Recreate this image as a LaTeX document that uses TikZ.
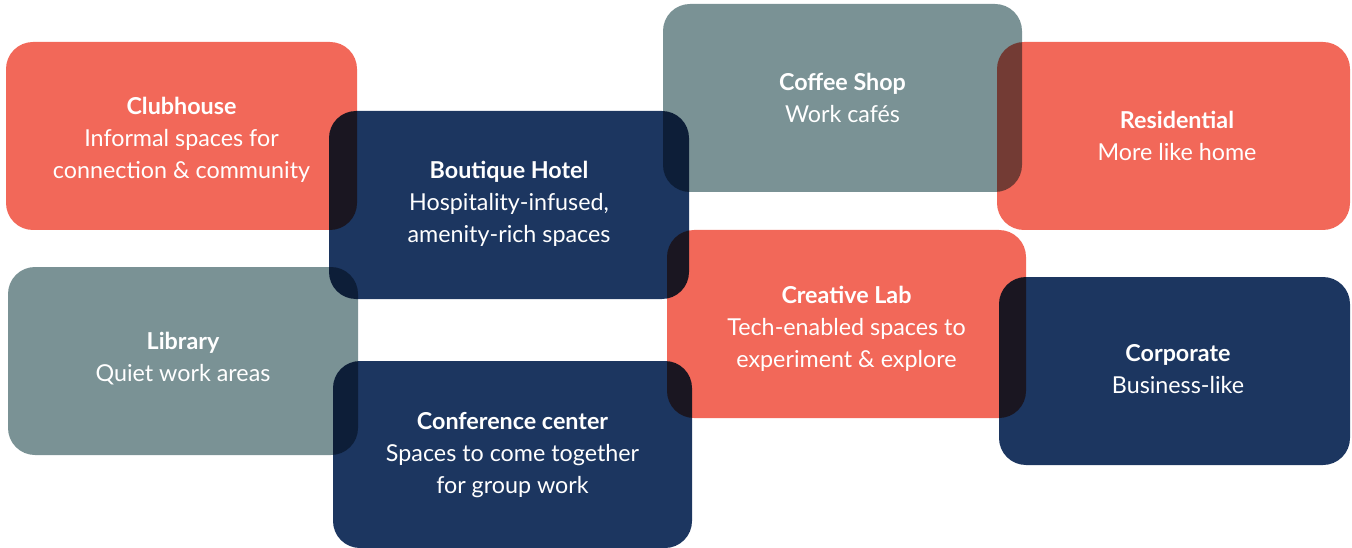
\documentclass[tikz,border=0pt]{standalone}
\usepackage{fontspec}
\setmainfont{Lato}
\definecolor{coral}{RGB}{242,104,89}
\definecolor{navy}{RGB}{28,54,96}
\definecolor{slate}{RGB}{122,146,149}
\begin{document}
\begin{tikzpicture}[x=1pt,y=-1pt,
  card/.style={draw=none,rounded corners=27pt},
  lbl/.style={text=white,align=center,font=\fontsize{23.3}{32}\selectfont},
]
\useasboundingbox (0,0) rectangle (1352,548);
\begin{scope}[blend mode=multiply]
\path[card,fill=coral] (6,42) rectangle (357,230);
\node[coordinate] (club) at (181.5,140) {};
\path[card,fill=navy] (329,111) rectangle (689,299);
\node[coordinate] (hotel) at (509,204) {};
\path[card,fill=slate] (663,4) rectangle (1022,192);
\node[coordinate] (coffee) at (842.5,98) {};
\path[card,fill=coral] (997,42) rectangle (1350,230);
\node[coordinate] (resid) at (1177,136) {};
\path[card,fill=slate] (8,267) rectangle (358,455);
\node[coordinate] (lib) at (183,359) {};
\path[card,fill=navy] (333,361) rectangle (692,548);
\node[coordinate] (conf) at (512.5,455) {};
\path[card,fill=coral] (667,230) rectangle (1026,418);
\node[coordinate] (lab) at (846.5,329) {};
\path[card,fill=navy] (999,277) rectangle (1350,465);
\node[coordinate] (corp) at (1178,369) {};
\end{scope}
\node[lbl] (tclub) at (club) {\textbf{Clubhouse}\\Informal spaces for\\connection \& community};
\node[lbl] (thotel) at (hotel) {\textbf{Boutique Hotel}\\Hospitality-infused,\\amenity-rich spaces};
\node[lbl] (tcoffee) at (coffee) {\textbf{Coffee Shop}\\Work cafés};
\node[lbl] (tresid) at (resid) {\textbf{Residential}\\More like home};
\node[lbl] (tlib) at (lib) {\textbf{Library}\\Quiet work areas};
\node[lbl] (tconf) at (conf) {\textbf{Conference center}\\Spaces to come together\\for group work};
\node[lbl] (tlab) at (lab) {\textbf{Creative Lab}\\Tech-enabled spaces to\\experiment \& explore};
\node[lbl] (tcorp) at (corp) {\textbf{Corporate}\\Business-like};
\end{tikzpicture}
\end{document}
